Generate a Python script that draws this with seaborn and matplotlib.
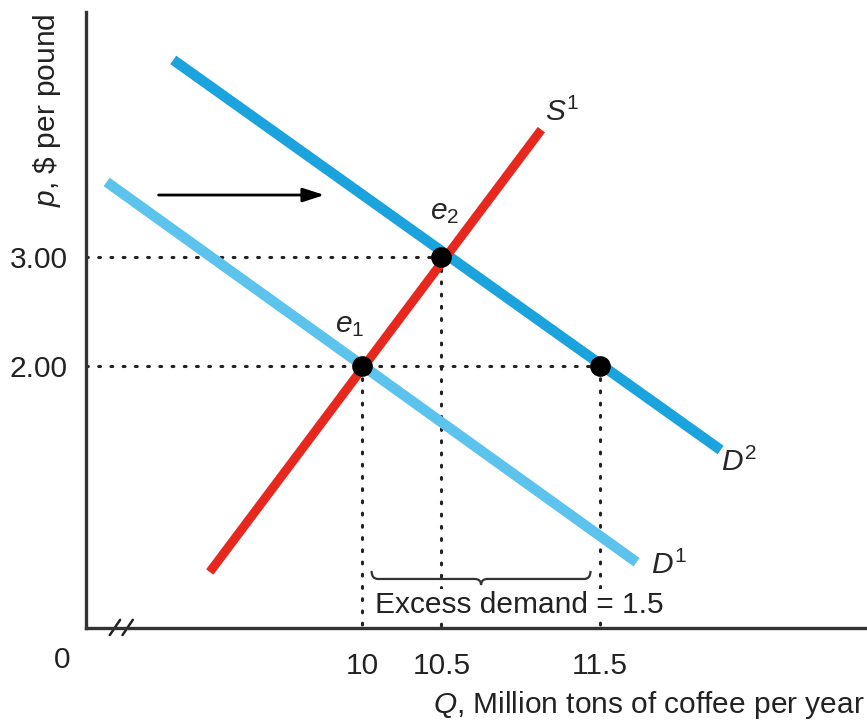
import matplotlib
matplotlib.use('Agg')
import matplotlib.pyplot as plt
from matplotlib.path import Path
from matplotlib.patches import PathPatch
import pandas as pd
import seaborn as sns

# curve end points (Q, p)
d1_q = [8.39, 11.73]
d1_p = [3.69, 0.20]
d2_q = [8.81, 12.26]
d2_p = [4.81, 1.23]
s1_q = [9.04, 11.13]
s1_p = [0.11, 4.17]

# equilibrium / marked points
eq_q = [10.0, 10.5, 11.5]
eq_p = [2.0, 3.0, 2.0]

xtick_vals = [10.0, 10.5, 11.5]
xtick_labels = ['10', '10.5', '11.5']
ytick_vals = [2.0, 3.0]
ytick_labels = ['2.00', '3.00']

sns.set_style('white')
plt.rcParams['font.family'] = ['Liberation Sans', 'DejaVu Sans']
plt.rcParams['mathtext.fontset'] = 'custom'
plt.rcParams['mathtext.rm'] = 'Liberation Sans'
plt.rcParams['mathtext.it'] = 'Liberation Sans:italic'

fs = 21.5
ink = '#222222'

fig = plt.figure(figsize=(8.67, 7.22), dpi=100)
ax = fig.add_axes([0.0992, 0.1302, 0.8985, 0.8532])
xmin, xmax = 8.26, 13.17
ymin, ymax = -0.404, 5.25

# dotted guide lines
dot = dict(color=ink, lw=2.2, linestyle=(0, (0.6, 3.4)), dash_capstyle='round', zorder=1)
ax.plot([xmin, eq_q[1]], [eq_p[1], eq_p[1]], **dot)
ax.plot([xmin, eq_q[2]], [eq_p[0], eq_p[2]], **dot)
for q, p in zip(eq_q, eq_p):
    ax.plot([q, q], [p, ymin], **dot)

sns.lineplot(x=d1_q, y=d1_p, sort=False, color='#5cc3ec', lw=7.5, solid_capstyle='butt', ax=ax, zorder=2)
sns.lineplot(x=d2_q, y=d2_p, sort=False, color='#1ba3dd', lw=7.5, solid_capstyle='butt', ax=ax, zorder=2)
sns.lineplot(x=s1_q, y=s1_p, sort=False, color='#e8281e', lw=6.5, solid_capstyle='butt', ax=ax, zorder=3)
sns.scatterplot(x=eq_q, y=eq_p, color='black', s=190, edgecolor='black', ax=ax, zorder=4)

# shift arrow
ax.annotate('', xy=(9.78, 3.57), xytext=(8.70, 3.57),
            arrowprops=dict(arrowstyle='-|>,head_length=1.3,head_width=0.42', color='black', lw=2))

# curve labels
ax.text(11.15, 4.33, r'$S^1$', fontsize=fs, ha='left', va='center')
ax.text(12.26, 1.12, r'$D^2$', fontsize=fs, ha='left', va='center')
ax.text(11.82, 0.17, r'$D^1$', fontsize=fs, ha='left', va='center')
ax.text(10.52, 3.41, r'$e_2$', fontsize=fs, ha='center', va='center')
ax.text(9.92, 2.38, r'$e_1$', fontsize=fs, ha='center', va='center')

# brace for excess demand
x0, x1, xc, r = 10.06, 11.44, 10.75, 0.04
yt, ym, yb = 0.12, 0.046, -0.01
verts = [(x0, yt), (x0, ym), (x0 + r, ym), (xc - r, ym), (xc, ym), (xc, yb),
         (xc, ym), (xc + r, ym), (x1 - r, ym), (x1, ym), (x1, yt)]
codes = [Path.MOVETO, Path.CURVE3, Path.CURVE3, Path.LINETO, Path.CURVE3, Path.CURVE3,
         Path.CURVE3, Path.CURVE3, Path.LINETO, Path.CURVE3, Path.CURVE3]
ax.add_patch(PathPatch(Path(verts, codes), fill=False, color='#333333', lw=1.6))
ax.text(10.99, -0.19, 'Excess demand = 1.5', fontsize=fs, ha='center', va='center', color=ink,
        bbox=dict(facecolor='white', edgecolor='none', pad=1.0), zorder=5)

# axis break marks and origin
for bx in (8.41, 8.49):
    ax.plot([bx, bx + 0.065], [ymin - 0.065, ymin + 0.075], color=ink, lw=1.8, clip_on=False)
ax.text(8.11, -0.70, '0', fontsize=fs, ha='center', va='center', color=ink)

ax.set_xlim(xmin, xmax)
ax.set_ylim(ymin, ymax)
ax.set_xticks(xtick_vals, xtick_labels)
ax.set_yticks(ytick_vals, ytick_labels)
ax.tick_params(length=0, labelsize=fs, colors=ink)
ax.tick_params(axis='x', pad=17)
ax.tick_params(axis='y', pad=13)
sns.despine(ax=ax)
for s in ('left', 'bottom'):
    ax.spines[s].set_color('#333333')
    ax.spines[s].set_linewidth(2.4)

fig.text(47 / 867, 1 - 110 / 722, r'$p$, \$ per pound', rotation=90, fontsize=fs,
         ha='center', va='center', color=ink)
fig.text(865 / 867, 1 - 705 / 722, r'$Q$, Million tons of coffee per year', fontsize=fs,
         ha='right', va='center', color=ink)

fig.savefig('out.png', dpi=100)
